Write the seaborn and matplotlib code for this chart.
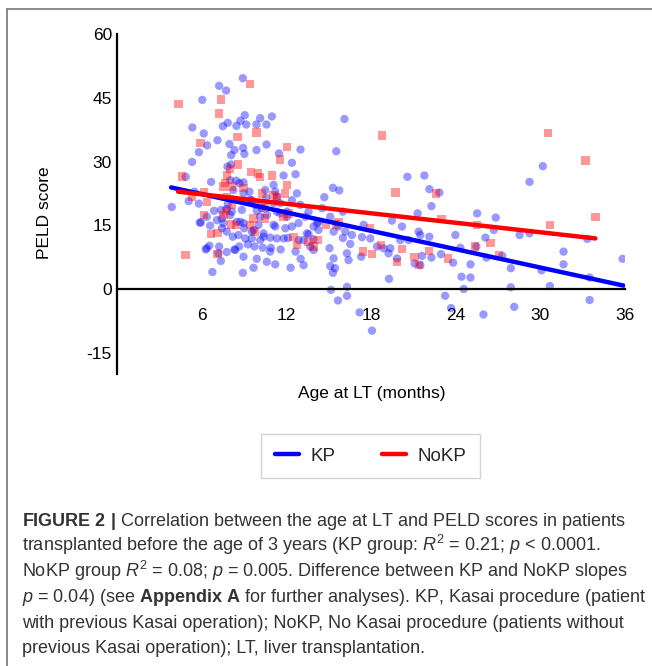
import matplotlib
matplotlib.use("Agg")
import numpy as np
import pandas as pd
import seaborn as sns
import matplotlib.pyplot as plt
from matplotlib.lines import Line2D

# ---------------- data ----------------
kp_age = [8.89, 7.21, 7.71, 6.02, 9.03, 10.95, 10.12, 16.1, 8.72, 8.44, 9.13, 7.47, 7.82, 9.86, 10.57,
          5.31, 6.12, 7.09, 6.36, 7.94, 8.91, 8.3, 9.86, 10.57, 12.98, 5.77, 9.0, 8.06, 11.45, 5.29,
          12.37, 15.52, 7.8, 8.06, 4.84, 11.78, 12.63, 6.64, 3.85, 5.05, 5.77, 15.28, 15.73, 14.67,
          6.85, 5.84, 8.42, 7.99, 8.94,
          5.91, 6.33, 6.73, 7.21, 7.75, 7.33, 8.94, 8.89, 9.65, 9.88, 10.59, 11.19, 12.28, 12.99, 13.2,
          11.57, 12.63, 8.3, 8.63, 8.18, 9.25, 9.72, 10.31, 10.88, 10.83, 12.09, 13.67, 13.91, 13.55,
          15.04, 15.33, 15.09, 15.43, 16.28, 16.39, 15.14, 16.28, 16.28, 15.64,
          7.35, 7.75, 6.57, 7.4, 7.99, 8.46, 7.4, 6.52, 6.26, 7.16, 8.35,
          8.82, 8.94, 9.06, 10.12, 9.53, 10.36, 10.83, 11.78, 12.84, 13.91, 11.19, 10.6, 10.12, 11.07,
          11.54, 12.02, 12.84, 13.44, 14.15, 14.26, 9.4,
          5.46, 7.82, 8.18, 8.22, 8.65, 8.94, 9.36, 9.53, 9.77, 9.88, 10.24, 10.48, 10.55, 11.07, 11.19,
          11.3, 11.3, 11.54, 12.02, 12.37, 12.73, 12.96, 12.37, 13.32, 13.55, 13.91, 14.26, 15.09,
          15.68, 16.16, 11.07, 11.9, 10.36, 9.65, 8.98, 8.7, 10.0, 9.53, 11.3, 13.2, 7.75, 8.58, 8.11,
          7.52, 7.05, 6.33,
          20.56, 21.77, 22.12, 22.83, 22.27, 21.29, 25.51, 14.52, 15.33, 15.99, 16.63, 16.51, 15.28,
          17.46, 17.93, 17.34, 17.29, 18.41, 18.88, 19.23, 19.35, 19.47, 20.18, 20.06, 20.65, 19.83,
          19.26, 21.08, 21.48, 21.6, 21.36, 21.48, 22.12, 22.27, 22.95, 23.97, 23.8, 24.32, 24.4,
          24.56, 25.04, 25.04, 25.46, 17.17, 18.05, 23.24, 23.66, 15.99,
          30.17, 29.23, 26.83, 26.1, 26.69, 28.52, 29.23, 26.17, 27.29, 27.9, 30.08, 31.64, 31.64,
          33.32, 33.49, 35.83, 27.9, 30.67, 28.14, 25.96, 33.49]
kp_peld = [49.6, 47.8, 46.7, 44.5, 40.9, 40.6, 40.2, 40.0, 39.6, 38.4, 38.7, 38.3, 39.1, 38.7, 38.7,
           38.0, 36.6, 35.0, 33.8, 34.1, 33.2, 32.7, 32.7, 34.0, 32.8, 32.2, 31.8, 31.5, 31.9, 29.9,
           29.7, 32.4, 28.8, 29.3, 26.4, 26.7, 27.0, 25.2, 19.3, 20.7, 20.1, 23.8, 23.2, 21.6,
           18.4, 15.6, 25.5, 25.6, 25.1,
           15.7, 9.6, 4.0, 10.0, 8.7, 6.6, 7.6, 3.8, 5.0, 7.1, 6.4, 5.8, 5.0, 7.1, 5.6,
           9.3, 8.8, 9.3, 10.0, 12.3, 10.5, 10.0, 9.7, 9.7, 12.1, 12.0, 10.0, 11.7, 12.9,
           9.6, 7.2, 5.4, 4.9, 8.4, 6.8, -0.2, 0.5, -1.6, -2.7,
           18.6, 18.8, 14.9, 16.6, 17.4, 15.8, 14.3, 10.2, 9.3, 8.4, 9.2,
           18.6, 15.5, 11.9, 11.5, 13.5, 12.3, 8.8, 11.9, 11.5, 9.2, 14.7, 17.4, 17.0, 20.2,
           17.8, 17.0, 15.5, 13.1, 15.5, 13.9, 21.0,
           22.9, 19.9, 21.1, 23.3, 24.9, 22.5, 22.9, 20.9, 19.8, 18.4, 19.0, 23.3, 21.5, 24.5, 22.9,
           21.7, 18.2, 20.2, 18.2, 20.9, 22.5, 19.8, 14.7, 17.0, 18.2, 14.7, 15.8, 17.0,
           14.7, 13.5, 15.1, 14.3, 13.1, 13.9, 14.3, 15.8, 15.1, 11.9, 11.9, 11.5, 13.5, 12.7, 18.2,
           15.5, 16.2, 17.0,
           26.4, 26.7, 23.5, 22.7, 19.5, 17.8, 17.8, 19.0, 13.5, 12.0, 12.7, 10.6, 3.8,
           15.1, 11.9, 12.2, 7.6, 10.0, 9.6, 8.4, 9.6, 16.1, 14.7, 11.5, 11.5, 7.2,
           2.4, 6.0, 5.6, 7.8, 13.5, 12.7, 12.3, 7.4, 8.2, 12.7, 6.2, 9.7, 2.9,
           0.0, 2.7, 5.8, 10.0, -5.5, -9.8, -1.6, -4.5, 18.2,
           28.9, 25.2, 16.8, 12.1, 13.9, 12.7, 13.1, 7.4, 7.8, 4.9, 4.4, 8.8, 5.8,
           11.8, 2.7, 7.1, 0.4, 0.7, -4.2, -6.0, -2.6]

nokp_age = [9.39, 4.32, 7.35, 7.21, 8.51, 9.86, 5.88, 12.04, 11.54, 8.54, 9.48, 9.98, 10.12, 10.95,
            4.56, 7.78, 18.76, 19.71, 12.04, 7.64, 6.12, 6.36, 4.82, 5.29, 7.99, 8.11, 7.52,
            6.14, 6.64, 7.09, 7.09, 7.52, 7.71, 8.06, 8.42, 9.64, 9.41, 9.77, 10.48, 11.78, 12.49,
            12.73, 13.55, 13.91, 14.19, 11.9, 11.07, 22.6, 22.98, 25.51, 15.68, 14.81, 15.52, 17.93,
            18.71, 17.41, 18.05, 20.18, 19.83, 21.06, 21.41, 22.12, 23.45, 25.34, 33.2, 33.91, 30.67,
            26.46, 27.07, 30.55, 12.13, 10.24, 8.94, 10.24, 10.48, 11.3, 7.75, 8.11]
nokp_peld = [48.2, 43.6, 44.6, 41.3, 35.8, 36.8, 34.4, 33.4, 30.5, 29.3, 27.6, 27.2, 26.4, 26.7,
             26.5, 26.7, 36.1, 22.7, 24.4, 24.9, 22.9, 20.5, 8.0, 21.7, 28.2, 24.1, 24.1,
             17.4, 12.9, 13.2, 8.2, 17.4, 18.4, 15.2, 15.1, 16.6, 15.1, 13.5, 16.6, 17.0, 12.3,
             10.4, 11.1, 10.0, 11.5, 22.5, 22.1, 22.5, 16.5, 15.1, 15.8, 15.0, 15.2, 14.3,
             10.4, 8.8, 8.2, 9.4, 6.3, 7.6, 5.6, 8.9, 7.2, 10.0, 30.2, 16.9, 15.1,
             10.8, 8.0, 36.7, 17.8, 22.5, 23.7, 20.2, 19.0, 21.7, 21.7, 19.8]

# fitted regression lines (endpoints)
kp_fit_age = [3.8, 35.9]
kp_fit_peld = [23.9, 0.8]
nokp_fit_age = [4.3, 33.9]
nokp_fit_peld = [22.9, 11.9]

groups = ["KP", "NoKP"]
colors = {"KP": "#0000ff", "NoKP": "#ff0000"}

x_ticks = [6, 12, 18, 24, 30, 36]
y_ticks = [-15, 0, 15, 30, 45, 60]

caption_lines = [
    r"$\mathbf{FIGURE\ 2\ |}$ Correlation between the age at LT and PELD scores in patients",
    r"transplanted before the age of 3 years (KP group: $R^2$ = 0.21; $p$ < 0.0001.",
    r"NoKP group $R^2$ = 0.08; $p$ = 0.005. Difference between KP and NoKP slopes",
    r"$p$ = 0.04) (see $\mathbf{Appendix\ A}$ for further analyses). KP, Kasai procedure (patient",
    "with previous Kasai operation); NoKP, No Kasai procedure (patients without",
    "previous Kasai operation); LT, liver transplantation.",
]

# ---------------- frames ----------------
pts = pd.concat([
    pd.DataFrame({"age": kp_age, "peld": kp_peld, "group": "KP"}),
    pd.DataFrame({"age": nokp_age, "peld": nokp_peld, "group": "NoKP"}),
], ignore_index=True)
fits = pd.concat([
    pd.DataFrame({"age": kp_fit_age, "peld": kp_fit_peld, "group": "KP"}),
    pd.DataFrame({"age": nokp_fit_age, "peld": nokp_fit_peld, "group": "NoKP"}),
], ignore_index=True)

# ---------------- style ----------------
sns.set_theme(style="white")
plt.rcParams["font.family"] = ["Liberation Sans", "DejaVu Sans"]
plt.rcParams["axes.unicode_minus"] = False
plt.rcParams["mathtext.fontset"] = "custom"
plt.rcParams["mathtext.rm"] = "Liberation Sans"
plt.rcParams["mathtext.it"] = "Liberation Sans:italic"
plt.rcParams["mathtext.bf"] = "Liberation Sans:bold"

W, H = 652, 666
fig = plt.figure(figsize=(W / 100, H / 100), dpi=100, facecolor="white")
ax = fig.add_axes([117.5 / W, 1 - 374 / H, (625 - 117.5) / W, (374 - 34) / H])

sns.scatterplot(data=pts, x="age", y="peld", hue="group", style="group",
                hue_order=groups, style_order=groups,
                markers={"KP": "o", "NoKP": "s"}, palette=colors,
                s=36, alpha=0.4, linewidth=0, legend=False, ax=ax, zorder=2)
sns.lineplot(data=fits, x="age", y="peld", hue="group", hue_order=groups,
             palette=colors, linewidth=3.2, estimator=None, sort=False,
             ax=ax, zorder=3)

ax.set_xlim(0, 36)
ax.set_ylim(-20, 60)
ax.set_xticks(x_ticks)
ax.set_yticks(y_ticks)
ax.spines["top"].set_visible(False)
ax.spines["right"].set_visible(False)
ax.spines["bottom"].set_position(("data", 0))
for sp in ("left", "bottom"):
    ax.spines[sp].set_color("black")
    ax.spines[sp].set_linewidth(1.6)
    ax.spines[sp].set_zorder(4)
ax.tick_params(axis="both", length=0, labelsize=12.5, colors="black")
ax.tick_params(axis="x", pad=14)
ax.tick_params(axis="y", pad=4)
ax.grid(False)

ax.set_xlabel("Age at LT (months)", fontsize=12.5, color="black")
ax.set_ylabel("PELD score", fontsize=12.5, color="black")
ax.xaxis.set_label_coords(0.5, -0.035)
ax.yaxis.set_label_coords(-0.13, 0.475)

handles, labels = ax.get_legend_handles_labels()
if ax.get_legend() is not None:
    ax.get_legend().remove()
leg = fig.legend(handles, labels, loc="center",
                 bbox_to_anchor=(370.5 / W, 1 - 456 / H), ncol=2,
                 frameon=True, fancybox=False, fontsize=13.5,
                 handlelength=1.3, handletextpad=0.6, columnspacing=2.5,
                 borderpad=0.7)
leg.get_frame().set_edgecolor("#c8c8c8")
leg.get_frame().set_linewidth(1.0)
for h in leg.get_lines():
    h.set_linewidth(3.2)

# outer frame (left and top rules)
fig.add_artist(Line2D([7 / W, 7 / W], [0, 1 - 9 / H], transform=fig.transFigure,
                      color="#808080", lw=1.3))
fig.add_artist(Line2D([7 / W, 1], [1 - 9 / H, 1 - 9 / H], transform=fig.transFigure,
                      color="#808080", lw=1.3))

baselines = [526, 551, 577, 602, 628, 653]
for line, b in zip(caption_lines, baselines):
    fig.text(22 / W, 1 - b / H, line, fontsize=13.0, color="#333333",
             ha="left", va="baseline")

fig.savefig("out.png", dpi=100, facecolor="white")
